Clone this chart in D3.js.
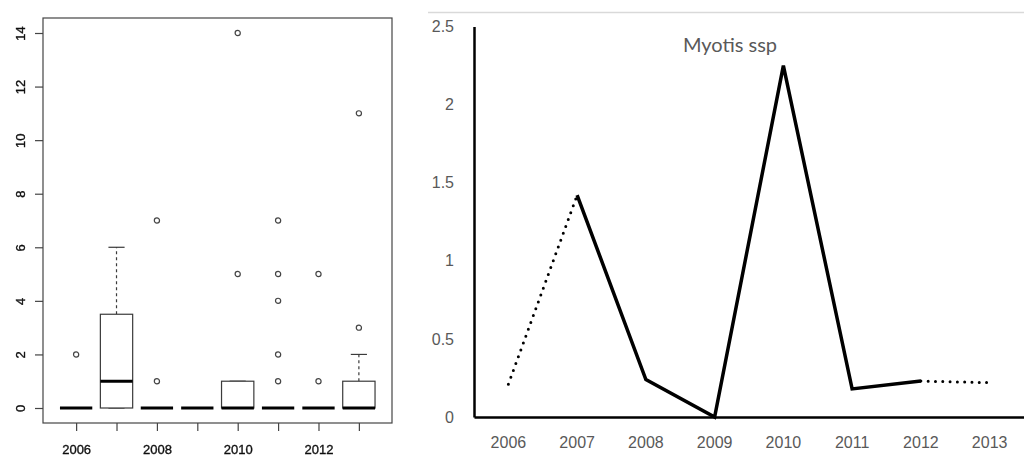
<!DOCTYPE html>
<html>
<head>
<meta charset="utf-8">
<script src="https://cdn.jsdelivr.net/npm/d3@7"></script>
<style>
  html, body { margin: 0; padding: 0; background: #fff; }
  svg { display: block; }
</style>
</head>
<body>
<svg id="chart" width="1024" height="456"></svg>
<script>
// ---- Boxplot: annual counts per site ----
const boxYears    = [2006, 2007, 2008, 2009, 2010, 2011, 2012, 2013];
const boxLower    = [0, 0, 0, 0, 0, 0, 0, 0];
const boxQ1       = [0, 0, 0, 0, 0, 0, 0, 0];
const boxMedian   = [0, 1, 0, 0, 0, 0, 0, 0];
const boxQ3       = [0, 3.5, 0, 0, 1, 0, 0, 1];
const boxUpper    = [0, 6, 0, 0, 1, 0, 0, 2];
const boxOutliers = [[2], [], [1, 7], [], [5, 14], [1, 2, 4, 5, 7], [1, 5], [3, 11]];
const boxYTicks   = [0, 2, 4, 6, 8, 10, 12, 14];
const boxXLabels  = ["2006", "", "2008", "", "2010", "", "2012", ""];

// ---- Line chart: Myotis ssp index ----
const lineYears     = ["2006", "2007", "2008", "2009", "2010", "2011", "2012", "2013"];
const lineValues    = [0.21, 1.42, 0.24, 0, 2.25, 0.18, 0.23, 0.22];
const lineEstimated = [true, false, false, false, false, false, false, true];
const lineYTicks    = [0, 0.5, 1, 1.5, 2, 2.5];
const lineTitle     = "Myotis ssp";

const svg = d3.select("#chart");
svg.append("rect").attr("width", 1024).attr("height", 456).attr("fill", "#fff");

const defs = svg.append("defs");
defs.append("filter").attr("id", "soft")
  .attr("x", "-5%").attr("y", "-5%").attr("width", "110%").attr("height", "110%")
  .append("feGaussianBlur").attr("stdDeviation", 0.5);

// ================= Boxplot =================
const L = { left: 43, right: 392, top: 18, bottom: 423 };
const n = boxYears.length;
const xL = d3.scaleLinear().domain([0.5 - 0.04 * n, n + 0.5 + 0.04 * n]).range([L.left, L.right]);
const yL = d3.scaleLinear().domain([-0.56, 14.56]).range([L.bottom, L.top]);
const gL = svg.append("g").attr("filter", "url(#soft)")
  .style("font-family", "'Liberation Sans', Arial, sans-serif");

const boxStroke = "#3a3a3a";
const halfW = (xL(1.4) - xL(1));
const stapleW = halfW * 0.5;

const boxes = gL.append("g").selectAll("g").data(boxYears).join("g")
  .attr("transform", (d, i) => `translate(${xL(i + 1)},0)`);

// whiskers (dashed)
boxes.append("line")
  .attr("x1", 0).attr("x2", 0)
  .attr("y1", (d, i) => yL(boxQ3[i])).attr("y2", (d, i) => yL(boxUpper[i]))
  .attr("stroke", boxStroke).attr("stroke-width", 1.2).attr("stroke-dasharray", "3,3");
boxes.append("line")
  .attr("x1", 0).attr("x2", 0)
  .attr("y1", (d, i) => yL(boxQ1[i])).attr("y2", (d, i) => yL(boxLower[i]))
  .attr("stroke", boxStroke).attr("stroke-width", 1.2).attr("stroke-dasharray", "3,3");
// staples
boxes.append("line")
  .attr("x1", -stapleW).attr("x2", stapleW)
  .attr("y1", (d, i) => yL(boxUpper[i])).attr("y2", (d, i) => yL(boxUpper[i]))
  .attr("stroke", boxStroke).attr("stroke-width", 1.2);
boxes.append("line")
  .attr("x1", -stapleW).attr("x2", stapleW)
  .attr("y1", (d, i) => yL(boxLower[i])).attr("y2", (d, i) => yL(boxLower[i]))
  .attr("stroke", boxStroke).attr("stroke-width", 1.2);
// boxes
boxes.append("rect")
  .attr("x", -halfW).attr("width", 2 * halfW)
  .attr("y", (d, i) => yL(boxQ3[i]))
  .attr("height", (d, i) => Math.max(0, yL(boxQ1[i]) - yL(boxQ3[i])))
  .attr("fill", "#fff").attr("stroke", boxStroke).attr("stroke-width", 1.2);
// medians
boxes.append("line")
  .attr("x1", -halfW).attr("x2", halfW)
  .attr("y1", (d, i) => yL(boxMedian[i])).attr("y2", (d, i) => yL(boxMedian[i]))
  .attr("stroke", "#000").attr("stroke-width", 3);
// outliers
boxes.each(function (d, i) {
  d3.select(this).selectAll("circle").data(boxOutliers[i]).join("circle")
    .attr("cx", 0).attr("cy", v => yL(v)).attr("r", 2.6)
    .attr("fill", "none").attr("stroke", "#444").attr("stroke-width", 1.2);
});

// frame
gL.append("rect")
  .attr("x", L.left).attr("y", L.top)
  .attr("width", L.right - L.left).attr("height", L.bottom - L.top)
  .attr("fill", "none").attr("stroke", "#444").attr("stroke-width", 1.2);

// y axis (rotated labels)
const yAxisL = gL.append("g").attr("transform", `translate(${L.left},0)`)
  .call(d3.axisLeft(yL).tickValues(boxYTicks).tickSize(8).tickFormat(d3.format("d")));
yAxisL.select(".domain").remove();
yAxisL.selectAll(".tick line").attr("stroke", "#444").attr("stroke-width", 1.2);
yAxisL.selectAll(".tick text")
  .attr("transform", "rotate(-90)")
  .attr("x", 0).attr("y", -18).attr("dy", 0)
  .attr("text-anchor", "middle")
  .attr("fill", "#111").attr("stroke", "#111").attr("stroke-width", 0.35)
  .style("font-size", "13px");

// x axis
const xAxisL = gL.append("g").attr("transform", `translate(0,${L.bottom})`)
  .call(d3.axisBottom(xL).tickValues(d3.range(1, n + 1)).tickSize(8)
    .tickFormat((d, i) => boxXLabels[i]));
xAxisL.select(".domain").remove();
xAxisL.selectAll(".tick line").attr("stroke", "#444").attr("stroke-width", 1.2);
xAxisL.selectAll(".tick text")
  .attr("y", 30.5).attr("dy", 0)
  .attr("fill", "#111").attr("stroke", "#111").attr("stroke-width", 0.35)
  .style("font-size", "13px");

// ================= Line chart =================
const R = { left: 474, right: 1024, top: 26.5, bottom: 417 };
const xR = d3.scaleBand().domain(lineYears).range([R.left, R.right]).padding(0);
const yR = d3.scaleLinear().domain([0, 2.5]).range([R.bottom, R.top]);
const cx = y => xR(y) + xR.bandwidth() / 2;
const gR = svg.append("g").style("font-family", "Lato, 'Open Sans', sans-serif");

// chart area top border
gR.append("line")
  .attr("x1", 428).attr("x2", 1024).attr("y1", 12.5).attr("y2", 12.5)
  .attr("stroke", "#d9d9d9").attr("stroke-width", 1.5);

// title
gR.append("text")
  .attr("x", 730).attr("y", 52)
  .attr("text-anchor", "middle")
  .attr("fill", "#595959").style("font-size", "20px")
  .text(lineTitle);

// y axis
const yAxisR = gR.append("g").attr("transform", `translate(${R.left},0)`)
  .call(d3.axisLeft(yR).tickValues(lineYTicks).tickSize(0).tickPadding(20)
    .tickFormat(d3.format("")));
yAxisR.select(".domain").attr("stroke", "#000").attr("stroke-width", 2.5);
yAxisR.selectAll(".tick text").attr("fill", "#595959").style("font-size", "16px");

// x axis
const xAxisR = gR.append("g").attr("transform", `translate(0,${R.bottom})`)
  .call(d3.axisBottom(xR).tickSize(0).tickPadding(20));
xAxisR.select(".domain").attr("stroke", "#000").attr("stroke-width", 2.5);
xAxisR.selectAll(".tick text").attr("fill", "#595959").style("font-size", "16px");

// line segments: dotted where an end point is estimated
const pts = lineYears.map((y, i) => ({ year: y, value: lineValues[i], est: lineEstimated[i] }));
const segs = d3.pairs(pts).map(([a, b]) => ({ a, b, dotted: a.est || b.est }));
const line = d3.line().x(d => cx(d.year)).y(d => yR(d.value));

// solid run drawn as one path for clean joins
const solidPts = pts.filter(p => !p.est);
gR.append("path")
  .attr("d", line(solidPts))
  .attr("fill", "none").attr("stroke", "#000").attr("stroke-width", 3.5)
  .attr("stroke-linejoin", "miter");

gR.selectAll(".dotseg").data(segs.filter(s => s.dotted)).join("path")
  .attr("class", "dotseg")
  .attr("d", s => line([s.a, s.b]))
  .attr("fill", "none").attr("stroke", "#000").attr("stroke-width", 3)
  .attr("stroke-linecap", "round").attr("stroke-dasharray", "0,7.3");
</script>
</body>
</html>
